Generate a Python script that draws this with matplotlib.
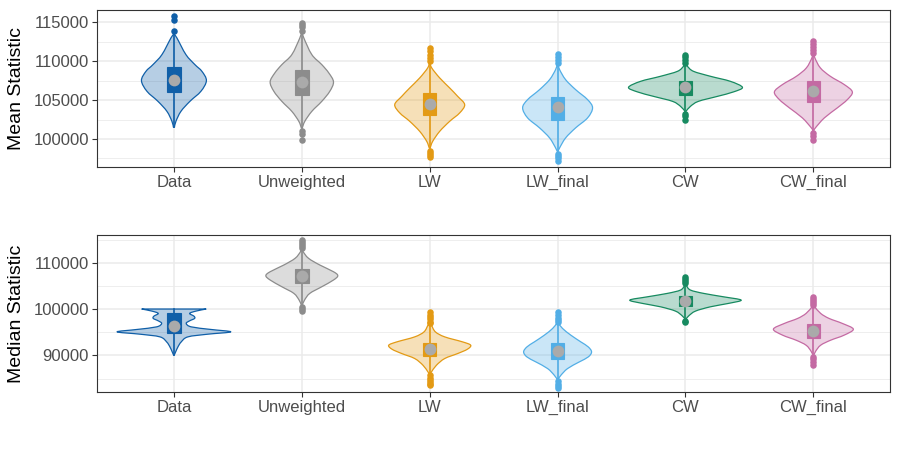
import numpy as np
import matplotlib.pyplot as plt
from matplotlib.path import Path
from matplotlib.patches import PathPatch, Rectangle

plt.rcParams['font.family'] = ['Liberation Sans', 'DejaVu Sans']

cats = ["Data", "Unweighted", "LW", "LW_final", "CW", "CW_final"]
colors = ["#105FA8", "#8C8C8C", "#E39A14", "#52AEE6", "#178A60", "#C46AA3"]

# ---- Mean statistic: violin outlines (value, density width)
mean_prof_y = [
    [113420, 112990, 110850, 109560, 108700, 107500, 106130, 104840, 103550, 102270, 101500],
    [113640, 112990, 110850, 109560, 108490, 107340, 106130, 104840, 103550, 102270, 101420],
    [109780, 109140, 107850, 106560, 105480, 104420, 103350, 102270, 100980, 99700, 98850],
    [109560, 108920, 107630, 106350, 105060, 104000, 102710, 101420, 100130, 98850, 98410],
    [109650, 109340, 108700, 108060, 107410, 106640, 106050, 105480, 104840, 104200, 103550],
    [110940, 110420, 109140, 108060, 106990, 106050, 105060, 104000, 102710, 101420, 101070],
]
mean_prof_w = [
    [0.5, 3, 12, 21, 28, 32.5, 27, 16, 7, 2, 0.5],
    [0.5, 2, 10, 20, 27, 31.7, 28, 20, 10, 3, 0.5],
    [0.5, 2, 10, 20, 28, 35, 30, 20, 10, 3, 0.5],
    [0.5, 2, 8, 18, 30, 35, 30, 18, 8, 2, 0.5],
    [0.5, 2, 8, 25, 45, 57, 48, 32, 13, 5, 0.5],
    [0.5, 1.5, 7, 17, 31, 39, 34, 24, 11, 2, 0.5],
]
mean_q1 = [106050, 105700, 103040, 102400, 105700, 104760]
mean_q3 = [109200, 108830, 105920, 105360, 107500, 107410]
mean_avg = [107630, 107330, 104500, 104070, 106640, 106180]
mean_out = [
    [115770, 115260, 113840],
    [114920, 114600, 114360, 113930, 101000, 100650, 99920],
    [111700, 111300, 110800, 110400, 110000, 98500, 98200, 97900, 97640],
    [110940, 110600, 110200, 109800, 98100, 97800, 97500, 97210],
    [110850, 110500, 110150, 109800, 103250, 102900, 102490],
    [112560, 112200, 111800, 111400, 111070, 100800, 100400, 99920],
]

# ---- Median statistic
med_prof_y = [
    [100000, 99550, 99050, 98470, 97970, 97450, 96890, 96150, 95590, 95070, 94570, 93990, 92900, 91820, 90740, 90030],
    [112960, 112380, 110950, 109500, 108050, 107190, 106260, 104810, 103380, 101930, 100850],
    [96670, 96520, 95070, 93990, 92900, 92190, 91320, 90390, 89310, 87860, 86410, 86070],
    [97100, 96890, 95800, 94350, 92900, 91820, 90740, 89660, 88580, 87150, 85700, 84830],
    [105170, 105020, 104090, 103380, 102640, 101930, 101210, 100480, 99550, 98530, 97820],
    [100700, 100480, 99050, 97970, 96890, 95650, 94350, 93270, 92190, 90890, 90030],
]
med_prof_w = [
    [32.3, 22, 15.7, 20, 20.7, 15.7, 12.3, 17.3, 37, 57, 34, 14, 7.3, 4, 1.7, 0.3],
    [0.5, 1.3, 6.7, 18, 31.7, 36, 31.7, 20, 8, 2.7, 0.5],
    [0.5, 1.7, 5.7, 15, 33, 41, 37.7, 28, 15, 6.7, 1.7, 0.5],
    [0.5, 1, 5, 13.3, 23.3, 30.7, 34, 30.7, 21.7, 10, 3.3, 0.5],
    [0.5, 1, 5, 18, 38, 55.7, 43, 25, 10, 3.3, 0.5],
    [0.5, 1.3, 7.3, 15.7, 29, 40, 30.7, 17.3, 7.3, 2.3, 0.5],
]
med_q1 = [94720, 105540, 89880, 89310, 100700, 93770]
med_q3 = [99050, 108640, 92770, 92770, 102860, 96730]
med_avg = [96300, 107190, 91320, 91040, 101780, 95220]
med_out = [
    [],
    [114910, 114500, 114000, 113500, 113110, 100500, 100000, 99550],
    [99270, 98800, 98300, 97800, 97300, 96890, 85700, 85200, 84700, 84200, 83800, 83530],
    [99270, 98700, 98100, 97600, 97230, 84400, 83900, 83400, 82950],
    [106970, 106500, 106000, 105600, 97500, 97100],
    [102650, 102200, 101700, 101200, 100850, 89700, 89200, 88600, 88020],
]

W_SCALE = 1 / 128.0   # density width units -> category units


def smooth_side(pts):
    verts = [pts[0]]
    codes = [Path.LINETO]
    n = len(pts)
    for i in range(n - 1):
        p0 = pts[i - 1] if i > 0 else pts[i]
        p1, p2 = pts[i], pts[i + 1]
        p3 = pts[i + 2] if i + 2 < n else pts[i + 1]
        verts += [p1 + (p2 - p0) / 6, p2 - (p3 - p1) / 6, p2]
        codes += [Path.CURVE4] * 3
    return verts, codes


def draw_panel(ax, prof_y, prof_w, q1, q3, avg, outl, ylim, major, minor, ylabel):
    for i, col in enumerate(colors):
        y = np.array(prof_y[i], float)
        w = np.array(prof_w[i], float) * W_SCALE
        right = np.column_stack([i + 1 + w, y])
        left = np.column_stack([i + 1 - w, y])[::-1]
        v1, c1 = smooth_side(right)
        v2, c2 = smooth_side(left)
        c1[0] = Path.MOVETO
        verts = v1 + v2 + [v1[0]]
        codes = c1 + c2 + [Path.CLOSEPOLY]
        path = Path(np.array(verts), codes)
        ax.add_patch(PathPatch(path, facecolor=col, alpha=0.3, lw=0, zorder=2))
        ax.add_patch(PathPatch(path, facecolor='none', edgecolor=col, lw=0.9, zorder=3))
        ax.plot([i + 1, i + 1], [y.min(), y.max()], color=col, lw=1.2, zorder=3)
        ax.add_patch(Rectangle((i + 1 - 0.053, q1[i]), 0.106, q3[i] - q1[i],
                               facecolor=col, edgecolor=col, lw=0.8, zorder=4))
        if outl[i]:
            ax.scatter([i + 1] * len(outl[i]), outl[i], s=22, color=col, zorder=4, lw=0)
        ax.scatter([i + 1], [avg[i]], s=72, color="#AAAAAA", zorder=5, lw=0)

    ax.set_xlim(0.4, 6.6)
    ax.set_ylim(*ylim)
    ax.set_xticks(range(1, 7))
    ax.set_xticklabels(cats)
    ax.set_yticks(major)
    ax.set_yticks(minor, minor=True)
    ax.set_yticklabels([str(m) for m in major])
    ax.grid(True, which='major', color='#EBEBEB', lw=1.1, zorder=0)
    ax.grid(True, which='minor', axis='y', color='#EBEBEB', lw=0.6, zorder=0)
    ax.set_axisbelow(True)
    ax.tick_params(which='major', direction='out', length=3.5, width=0.8, color='#333333',
                   labelcolor='#4D4D4D', labelsize=12, pad=2.5)
    ax.tick_params(which='minor', length=0)
    for s in ax.spines.values():
        s.set_color('#333333')
        s.set_linewidth(0.8)
    ax.set_ylabel(ylabel, fontsize=14, color='black')
    ax.yaxis.set_label_coords(-0.091, 0.5)


fig = plt.figure(figsize=(9, 4.5), dpi=100)
ax1 = fig.add_axes([0.108, 0.629, 0.881, 0.349])
ax2 = fig.add_axes([0.108, 0.129, 0.881, 0.349])

draw_panel(ax1, mean_prof_y, mean_prof_w, mean_q1, mean_q3, mean_avg, mean_out,
           (96400, 116600), [100000, 105000, 110000, 115000],
           [97500, 102500, 107500, 112500], "Mean Statistic")
draw_panel(ax2, med_prof_y, med_prof_w, med_q1, med_q3, med_avg, med_out,
           (82100, 116000), [90000, 100000, 110000],
           [85000, 95000, 105000, 115000], "Median Statistic")

fig.savefig('out.png', dpi=100)
